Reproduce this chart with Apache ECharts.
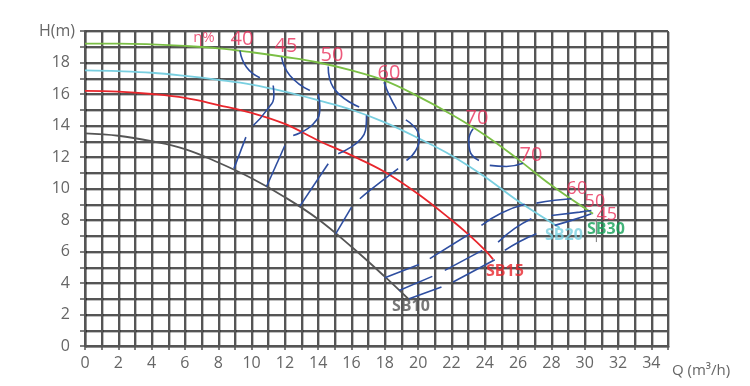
<!DOCTYPE html>
<html><head><meta charset="utf-8">
<script src="https://cdn.jsdelivr.net/npm/echarts@6/dist/echarts.min.js"></script>
<style>html,body{margin:0;padding:0;background:#fff}#c{width:750px;height:386px}</style>
</head><body><div id="c"></div>
<script>
// Pump curves: [Q (m3/h), H (m)]
const sb10 = [[0,13.5],[2,13.35],[4,13.0],[6,12.5],[8,11.65],[10,10.65],[12,9.45],[14,8.05],[16,6.3],[18,4.4],[19.4,3.0]];
const sb15 = [[0,16.2],[2,16.15],[4,16.0],[6,15.75],[8,15.3],[10,14.8],[12,14.1],[14,13.05],[16,12.1],[18,11.05],[20,9.65],[22,8.0],[23,7.1],[24,6.1],[24.5,5.5]];
const sb20 = [[0,17.5],[2,17.45],[4,17.35],[6,17.15],[8,16.9],[10,16.6],[12,16.15],[14,15.6],[16,15.0],[18,14.2],[20,13.2],[22,12.1],[24,10.75],[26,9.2],[28.5,7.5]];
const sb30 = [[0,19.2],[2,19.2],[4,19.15],[6,19.05],[8,18.9],[10,18.65],[12,18.35],[14,18.0],[16,17.5],[18,16.85],[20,15.85],[22,14.7],[24,13.4],[26,11.85],[28,10.2],[30.5,8.4]];

// Efficiency contour pieces (each piece = one drawn stroke)
const eff40 = [
  [[9.3,18.76],[9.7,17.7],[10.5,17.03]],
  [[11.3,16.54],[11.34,15.9],[10.9,14.96],[10.1,14.0]],
  [[9.66,13.26],[8.94,11.26]]
];
const eff45 = [
  [[11.8,18.34],[12.3,17.18],[13.5,16.22]],
  [[14.0,16.0],[14.1,15.17],[13.7,14.1],[12.5,13.37]],
  [[12.0,12.73],[10.9,10.13]]
];
const eff50 = [
  [[14.6,17.75],[14.9,16.43],[16.46,15.17]],
  [[16.9,14.64],[16.84,13.69],[15.2,12.2]],
  [[14.6,11.57],[12.9,8.88]]
];
const eff60 = [
  [[17.95,16.75],[18.3,15.85],[18.7,15.06]],
  [[19.26,14.36],[20.06,13.26],[19.85,12.4],[19.3,11.78]],
  [[18.8,11.26],[17.1,9.88],[16.5,9.35]],
  [[16.0,8.82],[15.06,7.13]]
];
const eff70 = [
  [[23.3,13.8],[23.04,13.05],[23.1,12.4],[23.65,11.78]],
  [[24.3,11.47],[25.3,11.4],[26.3,11.6]]
];
const eff60r = [
  [[18.0,4.34],[20.05,5.18]],
  [[20.7,5.55],[23.1,7.13]],
  [[23.8,7.66],[25.0,8.45],[26.4,9.0]],
  [[27.1,9.07],[28.2,9.25],[29.2,9.35]]
];
const eff50r = [
  [[18.86,3.53],[20.85,4.42]],
  [[21.6,4.8],[23.85,6.07]],
  [[24.8,6.6],[25.8,7.47],[26.8,8.08]],
  [[28.0,8.29],[29.7,8.5],[30.4,8.6]]
];
const eff45r = [
  [[19.46,3.0],[21.4,3.74]],
  [[22.1,4.06],[24.6,5.48]],
  [[25.2,6.07],[26.1,6.64],[27.1,7.13]],
  [[28.2,7.66],[29.4,8.04],[30.4,8.4]]
];
const endMark30 = [[30.7,8.1],[30.7,6.6]];

// Annotation texts and their anchor points [Q, H]
const effLabelText = ['η%','40','45','50','60','70','70','60','50','45'];
const effLabelAt = [[7.14,19.6],[9.42,19.47],[12.06,19.03],[14.83,18.46],[18.25,17.32],[23.53,14.46],[26.77,12.11],[29.53,10.0],[30.61,9.12],[31.33,8.3]];
const pumpLabelText = ['SB10','SB15','SB20','SB30'];
const pumpLabelAt = [[19.57,2.52],[25.21,4.74],[28.75,7.03],[31.27,7.41]];

const X_MAX = 35, Y_MAX = 20;

const pumpColors = ['#555555','#e8262c','#79cfe0','#7bbf45'];
const pumpLabelColors = ['#555555','#e8262c','#79cfe0','#13a158'];
const effColor = '#2e4ea0';
const effTextColor = '#e8305a';

const series = [];
[sb10, sb15, sb20, sb30].forEach((d, i) => {
  series.push({type:'line', data:d, smooth:0.4, showSymbol:false, silent:true,
    lineStyle:{color:pumpColors[i], width:1.8}, z:3});
});
[eff40, eff45, eff50, eff60, eff70, eff60r, eff50r, eff45r].forEach(group => {
  group.forEach(piece => {
    series.push({type:'line', data:piece, smooth:0.5, showSymbol:false, silent:true,
      lineStyle:{color:effColor, width:1.6}, z:4});
  });
});
series.push({type:'line', data:endMark30, showSymbol:false, silent:true,
  lineStyle:{color:'#777', width:1}, z:4});

series.push({type:'scatter', symbolSize:0, silent:true, z:6,
  data: effLabelText.map((t, i) => ({value: effLabelAt[i], name: t,
    label: {fontSize: i === 0 ? 15 : (i >= 7 ? 18 : 20)}})),
  label:{show:true, position:'inside', formatter:p => p.name, color:effTextColor,
    fontFamily:'Open Sans', fontWeight:'normal'}
});
series.push({type:'scatter', symbolSize:0, silent:true, z:6,
  data: pumpLabelText.map((t, i) => ({value: pumpLabelAt[i], name: t,
    label: {color: pumpLabelColors[i]}})),
  label:{show:true, position:'inside', formatter:p => p.name, fontSize:16,
    fontFamily:'Open Sans', fontWeight:'bold'}
});

const gridLine = {color:'#555', width:2, shadowColor:'rgba(0,0,0,0.25)', shadowOffsetX:1, shadowOffsetY:1, shadowBlur:0.5};
const chart = echarts.init(document.getElementById('c'), null, {renderer:'canvas'});
chart.setOption({
  animation:false,
  backgroundColor:'#fff',
  grid:{left:85, right:82, top:31, bottom:40, containLabel:false},
  xAxis:{type:'value', min:0, max:X_MAX, interval:1,
    name:'Q (m³/h)', nameLocation:'end', nameGap:4,
    nameTextStyle:{color:'#666', fontSize:15, fontFamily:'Open Sans', verticalAlign:'top', padding:[17,0,0,0]},
    axisLine:{show:true, lineStyle:gridLine},
    axisTick:{show:true, length:4, lineStyle:{color:'#555', width:1.5}},
    axisLabel:{color:'#666', fontSize:16, fontFamily:'Open Sans', margin:9,
      formatter:v => (v % 2 === 0 ? String(v) : '')},
    splitLine:{show:true, lineStyle:gridLine}
  },
  yAxis:{type:'value', min:0, max:Y_MAX, interval:1,
    name:'H(m)', nameLocation:'end', nameGap:0,
    nameTextStyle:{color:'#666', fontSize:16, fontFamily:'Open Sans', align:'right', verticalAlign:'middle', padding:[0,10,0,0]},
    axisLine:{show:true, lineStyle:gridLine},
    axisTick:{show:true, length:5, lineStyle:{color:'#555', width:1.5}},
    axisLabel:{color:'#666', fontSize:16, fontFamily:'Open Sans', margin:15,
      formatter:v => (v % 2 === 0 && v < Y_MAX ? String(v) : '')},
    splitLine:{show:true, lineStyle:gridLine}
  },
  series: series
});
</script></body></html>
